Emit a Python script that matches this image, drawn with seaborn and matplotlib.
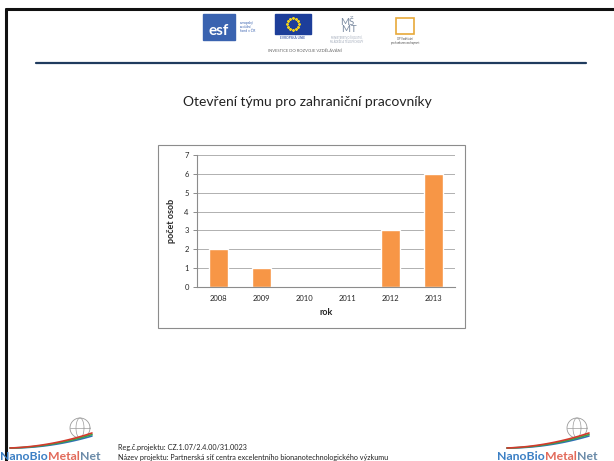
import numpy as np
import pandas as pd
import matplotlib
matplotlib.use('Agg')
import matplotlib.pyplot as plt
import matplotlib.patches as mpatches
import seaborn as sns

years = ['2008', '2009', '2010', '2011', '2012', '2013']
counts = [2, 1, 0, 0, 3, 6]

title = 'Otevření týmu pro zahraniční pracovníky'
xlab = 'rok'
ylab = 'počet osob'
reg_text = 'Reg.č.projektu: CZ.1.07/2.4.00/31.0023'
name_text = 'Název projektu: Partnerská síť centra excelentního bionanotechnologického výzkumu'

sns.set_style('white')
plt.rcParams['font.family'] = ['Lato', 'DejaVu Sans']

W, H = 614, 461
fig = plt.figure(figsize=(W / 100, H / 100), dpi=100)
fig.patch.set_facecolor('white')


def fx(px):
    return px / W


def fy(py):
    return 1 - py / H


# slide frame
fig.add_artist(plt.Line2D([fx(6), 1], [fy(9), fy(9)], color='#111111', lw=2.2))
fig.add_artist(plt.Line2D([fx(6), fx(6)], [fy(9), 0], color='#111111', lw=2.2))
fig.add_artist(plt.Line2D([fx(36), fx(586)], [fy(63), fy(63)], color='#1f3b5e', lw=1.6))

# header logos (rough)
fig.add_artist(mpatches.Rectangle((fx(203), fy(40)), fx(32), fy(14) - fy(40),
                                  transform=fig.transFigure, color='#3a63b0'))
fig.text(fx(219), fy(31), 'esf', color='white', fontsize=11, fontweight='bold',
         ha='center', va='center')
fig.text(fx(240), fy(27), 'evropský\nsociální\nfond v ČR', color='#3a63b0', fontsize=2.5,
         ha='left', va='center', linespacing=1.1)
fig.add_artist(mpatches.Rectangle((fx(275), fy(34)), fx(36), fy(14) - fy(34),
                                  transform=fig.transFigure, color='#1d3e9a'))
ang = np.linspace(0, 2 * np.pi, 12, endpoint=False)
fig.add_artist(plt.Line2D(fx(293 + 6 * np.cos(ang)), fy(24 + 6 * np.sin(ang)),
                          ls='none', marker='*', ms=1.5, color='#f2d21b'))
fig.text(fx(293), fy(38), 'EVROPSKÁ UNIE', color='#1d3e9a', fontsize=2.3, ha='center', va='center')
fig.text(fx(347), fy(26), 'MŠ\n  MT', color='#7a8aa0', fontsize=7, ha='center', va='center',
         linespacing=0.7)
fig.text(fx(347), fy(39), 'MINISTERSTVO ŠKOLSTVÍ,\nMLÁDEŽE A TĚLOVÝCHOVY', color='#9aa4b4',
         fontsize=1.8, ha='center', va='center')
fig.add_artist(mpatches.Rectangle((fx(396), fy(34)), fx(18), fy(18) - fy(34),
                                  transform=fig.transFigure, fill=False, ec='#e8a93a', lw=1.2))
fig.text(fx(405), fy(41), 'OP Vzdělávání\npro konkurenceschopnost', color='#444444', fontsize=1.8,
         ha='center', va='center')
fig.text(fx(305), fy(51), 'INVESTICE DO ROZVOJE VZDĚLÁVÁNÍ', color='#666666', fontsize=3,
         ha='center', va='center')

fig.text(fx(307), fy(102), title, fontsize=10, ha='center', va='center', color='#222222')

# chart frame
fig.add_artist(mpatches.Rectangle((fx(158), fy(328)), fx(465 - 158), fy(145) - fy(328),
                                  transform=fig.transFigure, fill=False, ec='#8c8c8c', lw=0.8))

ax = fig.add_axes([fx(197), fy(287), fx(455 - 197), fy(155) - fy(287)])
df = pd.DataFrame({'rok': years, 'osob': counts})
sns.barplot(data=df, x='rok', y='osob', color='#F79646', width=0.42, saturation=1, ax=ax)
ax.set_ylim(0, 7)
ax.set_yticks(range(0, 8))
ax.yaxis.grid(True, color='#b0b0b0', lw=0.7)
ax.set_axisbelow(True)
for s in ['top', 'right']:
    ax.spines[s].set_visible(False)
for s in ['left', 'bottom']:
    ax.spines[s].set_color('#8c8c8c')
    ax.spines[s].set_linewidth(0.8)
ax.tick_params(axis='y', length=3, width=0.7, color='#8c8c8c', labelsize=5.5, pad=3, left=True)
ax.tick_params(axis='x', length=0, labelsize=5.5, pad=6)
ax.set_xlabel(xlab, fontsize=6.5, fontweight='bold', labelpad=4)
ax.set_ylabel(ylab, fontsize=6.5, fontweight='bold', labelpad=6)

renderer = fig.canvas.get_renderer()


# footer logos
def nano_logo(x0):
    th = np.linspace(0, 2 * np.pi, 60)
    cx, cy, r = x0 + 80, 428, 10
    fig.add_artist(plt.Line2D(fx(cx + r * np.cos(th)), fy(cy + r * np.sin(th)), color='#9a9a9a', lw=0.6))
    fig.add_artist(plt.Line2D(fx(cx + 4 * np.cos(th)), fy(cy + r * np.sin(th)), color='#9a9a9a', lw=0.5))
    fig.add_artist(plt.Line2D([fx(cx - r), fx(cx + r)], [fy(cy), fy(cy)], color='#9a9a9a', lw=0.5))
    t = np.linspace(0, 1, 40)
    for off, c in [(0, '#2f6fb5'), (1.5, '#3aa34a'), (3, '#d33a2c')]:
        xs = x0 + 10 + 82 * t
        ys = 448 - 12 * t ** 2 - off * t
        fig.add_artist(plt.Line2D(fx(xs), fy(ys), color=c, lw=1.2))
    xpos = x0
    for part, c in [('NanoBio', '#3b7fc4'), ('Metal', '#e26a5a'), ('Net', '#6a8aa8')]:
        t_ = fig.text(fx(xpos), fy(456), part, color=c, fontsize=8.8, fontweight='bold',
                      ha='left', va='center')
        xpos += t_.get_window_extent(renderer).width


nano_logo(0)
nano_logo(497)

fig.text(fx(118), fy(447), reg_text, fontsize=5.2, ha='left', va='center', color='#222222')
fig.text(fx(118), fy(457), name_text, fontsize=5.2, ha='left', va='center', color='#222222')

fig.savefig('out.png', dpi=100)
